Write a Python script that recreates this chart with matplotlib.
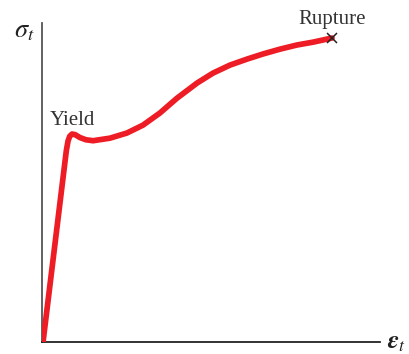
import matplotlib
matplotlib.use("Agg")
import matplotlib.pyplot as plt

# true strain / true stress (arbitrary units)
strain = [0.003, 0.072, 0.077, 0.082, 0.089, 0.098, 0.112, 0.130, 0.151,
          0.201, 0.251, 0.299, 0.349, 0.399, 0.459, 0.506, 0.556, 0.607,
          0.654, 0.704, 0.754, 0.802, 0.858]
stress = [0.000, 0.600, 0.630, 0.645, 0.652, 0.650, 0.641, 0.634, 0.631,
          0.639, 0.655, 0.680, 0.718, 0.764, 0.812, 0.843, 0.868, 0.887,
          0.903, 0.918, 0.931, 0.940, 0.953]

plt.rcParams["mathtext.fontset"] = "stix"

fig = plt.figure(figsize=(4.09, 3.54), dpi=100)
ax = fig.add_axes([0.1027, 0.0339, 0.8264, 0.9011])
ax.set_xlim(0, 1)
ax.set_ylim(0, 1)

ax.plot(strain, stress, color="#ee1c25", lw=4.1, solid_capstyle="round",
        solid_joinstyle="round", zorder=3)
ax.plot(strain[-1], stress[-1], marker="x", color="#222222", ms=7, mew=1.1,
        zorder=4)

for s in ["top", "right"]:
    ax.spines[s].set_visible(False)
ax.spines["left"].set_color("#555555")
ax.spines["left"].set_linewidth(1.3)
ax.spines["bottom"].set_color("#222222")
ax.spines["bottom"].set_linewidth(1.3)
ax.set_xticks([])
ax.set_yticks([])

ax.text(-0.021, 0.978, r"$\sigma_t$", ha="right", va="center", fontsize=19,
        transform=ax.transAxes, color="#222222")
ax.text(1.021, 0.0, r"$\boldsymbol{\epsilon}_t$", ha="left", va="center",
        fontsize=18, transform=ax.transAxes, color="#222222")
ax.text(0.024, 0.680, "Yield", ha="left", va="baseline", fontsize=15,
        family="Liberation Serif", color="#333333")
ax.text(0.858, 0.997, "Rupture", ha="center", va="baseline", fontsize=15,
        family="Liberation Serif", color="#333333", clip_on=False)

fig.savefig("out.png", dpi=100, facecolor="white")
